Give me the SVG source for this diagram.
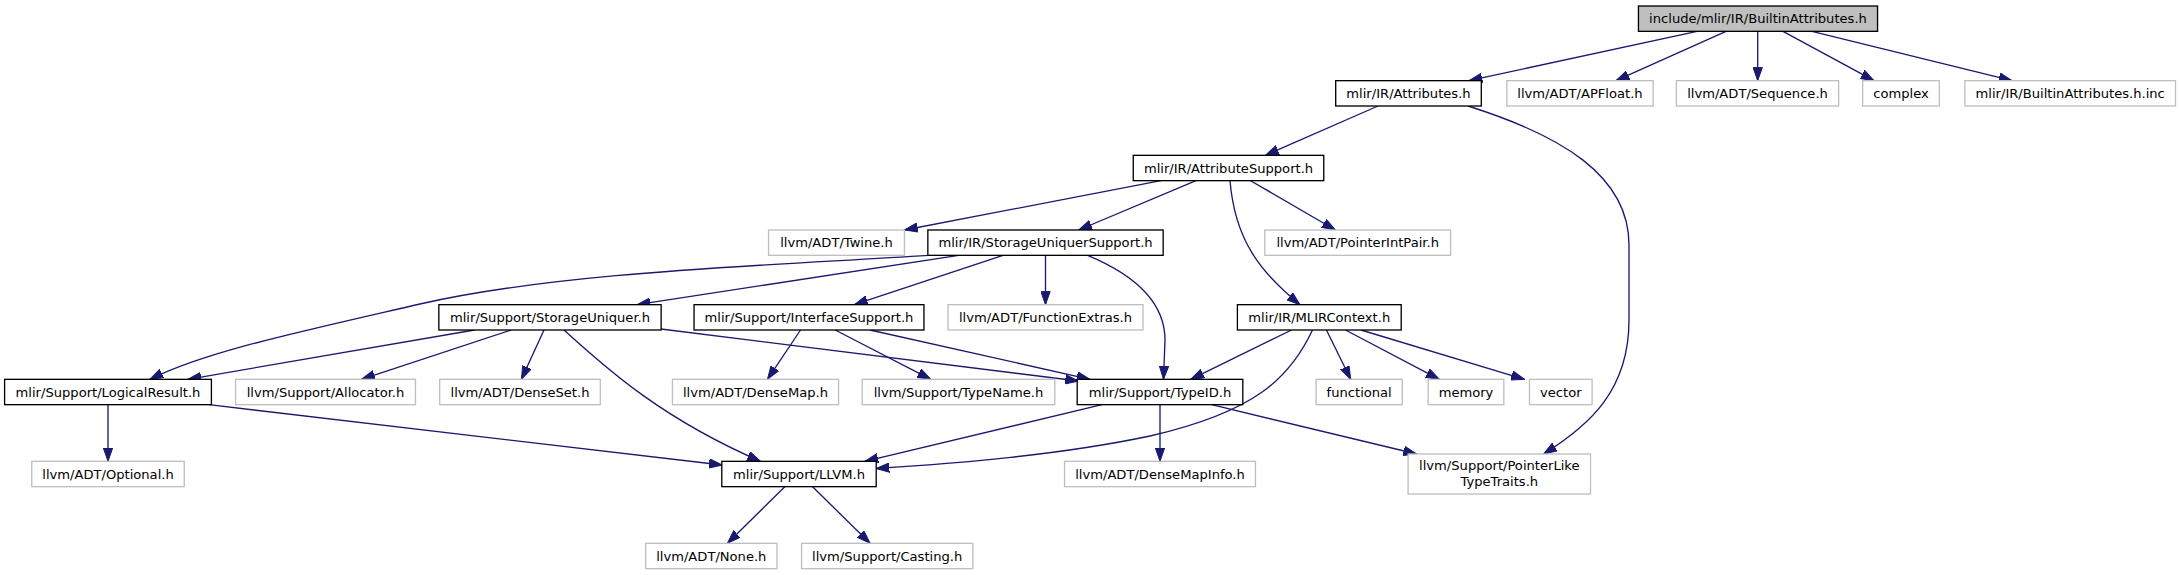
<svg xmlns="http://www.w3.org/2000/svg" width="2181" height="575" viewBox="0 0 2181 575">
<style>
  .n rect { stroke-width: 1.33; }
  .doc rect { fill: #ffffff; stroke: #000000; }
  .ext rect { fill: #ffffff; stroke: #bfbfbf; }
  .root rect { fill: #bfbfbf; stroke: #000000; }
  .n text { font-family: "DejaVu Sans", "Liberation Sans", sans-serif; font-size: 13.1px; text-anchor: middle; fill: #000000; }
  .edges path { fill: none; stroke: #191970; stroke-width: 1.33; marker-end: url(#ah); }
</style>
<defs>
  <marker id="ah" markerUnits="userSpaceOnUse" markerWidth="14" markerHeight="10" viewBox="0 0 14 10" refX="13.3" refY="5" orient="auto">
    <path d="M0,0.33 L13.3,5 L0,9.67 z" fill="#191970" stroke="#191970" stroke-width="1"/>
  </marker>
</defs>
<rect x="0" y="0" width="2181" height="575" fill="#ffffff"/>
<g class="edges" id="connectors">
  <path d="M1697,31.3 L1469,80.7"/>
  <path d="M1726,31.3 L1616,80.7"/>
  <path d="M1757.7,31.3 L1757.7,80.7"/>
  <path d="M1783,31.3 L1874,80.7"/>
  <path d="M1812,31.3 L2012,80.7"/>
  <path d="M1378,106 L1265.5,155.3"/>
  <path d="M1468,106 C1560,135 1629,175 1629,245 L1629,320 C1629,390 1590,425 1543.6,454"/>
  <path d="M1161,180.7 L904.5,230"/>
  <path d="M1196,180.7 L1078.7,230"/>
  <path d="M1250.6,180.7 L1335.4,230"/>
  <path d="M1230,180.7 C1235,240 1260,272 1300,304.7"/>
  <path d="M928.5,255.3 C760,266 560,272 420,304 C290,334 205,352 150,379.3"/>
  <path d="M958.6,255.3 L637,304.7"/>
  <path d="M1003,255.3 L854.3,304.7"/>
  <path d="M1045.5,255.3 L1045.5,304.7"/>
  <path d="M1087.6,255.3 C1135,275 1165,302 1165,340 L1163.5,379.3"/>
  <path d="M474.5,330 L188,379.3"/>
  <path d="M511,330 L361.5,379.3"/>
  <path d="M544,330 L521.4,379.3"/>
  <path d="M564,330 C610,372 665,420 760.5,461.3"/>
  <path d="M661,329 L1078.5,381"/>
  <path d="M800.5,330 L767.5,379.3"/>
  <path d="M835.2,330 L930.8,379.3"/>
  <path d="M870,330 L1090,379.3"/>
  <path d="M1291.6,330 L1190.8,379.3"/>
  <path d="M1312.5,330 C1290,378 1255,412 1150,436 C1060,455 960,463 876,468.5"/>
  <path d="M1326.4,330 L1350.7,379.3"/>
  <path d="M1345.5,330 L1439.3,379.3"/>
  <path d="M1361,330 L1524.5,379.3"/>
  <path d="M108,404.7 L108,461.3"/>
  <path d="M209,404.7 L722.3,465"/>
  <path d="M1102,404.7 L864.8,461.3"/>
  <path d="M1160,404.7 L1160,461.3"/>
  <path d="M1211.7,404.7 L1416.7,454"/>
  <path d="M784.8,486.7 L727.5,543.3"/>
  <path d="M812.6,486.7 L870,543.3"/>
</g>
<g id="n_root" class="n root"><rect x="1638.45" y="6" width="239.1" height="25.33"/><text x="1758" y="23.2">include/mlir/IR/BuiltinAttributes.h</text></g>
<g id="n_attributes" class="n doc"><rect x="1335.7" y="80.67" width="145.6" height="25.33"/><text x="1408.5" y="97.8">mlir/IR/Attributes.h</text></g>
<g id="n_apfloat" class="n ext"><rect x="1506.85" y="80.67" width="146.3" height="25.33"/><text x="1580" y="97.8">llvm/ADT/APFloat.h</text></g>
<g id="n_sequence" class="n ext"><rect x="1676.35" y="80.67" width="162.3" height="25.33"/><text x="1757.5" y="97.8">llvm/ADT/Sequence.h</text></g>
<g id="n_complex" class="n ext"><rect x="1862.65" y="80.67" width="76.7" height="25.33"/><text x="1901" y="97.8">complex</text></g>
<g id="n_inc" class="n ext"><rect x="1964.9" y="80.67" width="210.6" height="25.33"/><text x="2070.2" y="97.8">mlir/IR/BuiltinAttributes.h.inc</text></g>
<g id="n_attrsupport" class="n doc"><rect x="1133.25" y="155.33" width="190.5" height="25.33"/><text x="1228.5" y="172.5">mlir/IR/AttributeSupport.h</text></g>
<g id="n_twine" class="n ext"><rect x="768.55" y="230" width="135.9" height="25.33"/><text x="836.5" y="247.2">llvm/ADT/Twine.h</text></g>
<g id="n_sus" class="n doc"><rect x="927.85" y="230" width="235.3" height="25.33"/><text x="1045.5" y="247.2">mlir/IR/StorageUniquerSupport.h</text></g>
<g id="n_pip" class="n ext"><rect x="1264.8" y="230" width="185.8" height="25.33"/><text x="1357.7" y="247.2">llvm/ADT/PointerIntPair.h</text></g>
<g id="n_su" class="n doc"><rect x="438.85" y="304.67" width="222.3" height="25.33"/><text x="550" y="321.8">mlir/Support/StorageUniquer.h</text></g>
<g id="n_is" class="n doc"><rect x="694.05" y="304.67" width="229.9" height="25.33"/><text x="809" y="321.8">mlir/Support/InterfaceSupport.h</text></g>
<g id="n_fe" class="n ext"><rect x="948" y="304.67" width="195" height="25.33"/><text x="1045.5" y="321.8">llvm/ADT/FunctionExtras.h</text></g>
<g id="n_ctx" class="n doc"><rect x="1237.4" y="304.67" width="163.8" height="25.33"/><text x="1319.3" y="321.8">mlir/IR/MLIRContext.h</text></g>
<g id="n_lr" class="n doc"><rect x="4.6" y="379.33" width="206.8" height="25.33"/><text x="108" y="396.5">mlir/Support/LogicalResult.h</text></g>
<g id="n_alloc" class="n ext"><rect x="235.55" y="379.33" width="179.9" height="25.33"/><text x="325.5" y="396.5">llvm/Support/Allocator.h</text></g>
<g id="n_denseset" class="n ext"><rect x="439.7" y="379.33" width="160.6" height="25.33"/><text x="520" y="396.5">llvm/ADT/DenseSet.h</text></g>
<g id="n_densemap" class="n ext"><rect x="672.45" y="379.33" width="166.1" height="25.33"/><text x="755.5" y="396.5">llvm/ADT/DenseMap.h</text></g>
<g id="n_typename" class="n ext"><rect x="862.2" y="379.33" width="192.6" height="25.33"/><text x="958.5" y="396.5">llvm/Support/TypeName.h</text></g>
<g id="n_typeid" class="n doc"><rect x="1077.2" y="379.33" width="165.6" height="25.33"/><text x="1160" y="396.5">mlir/Support/TypeID.h</text></g>
<g id="n_functional" class="n ext"><rect x="1316.1" y="379.33" width="86.2" height="25.33"/><text x="1359.2" y="396.5">functional</text></g>
<g id="n_memory" class="n ext"><rect x="1428.15" y="379.33" width="75.7" height="25.33"/><text x="1466" y="396.5">memory</text></g>
<g id="n_vector" class="n ext"><rect x="1529.5" y="379.33" width="62.6" height="25.33"/><text x="1560.8" y="396.5">vector</text></g>
<g id="n_optional" class="n ext"><rect x="31.75" y="461.33" width="152.5" height="25.33"/><text x="108" y="478.5">llvm/ADT/Optional.h</text></g>
<g id="n_llvm" class="n doc"><rect x="721.8" y="461.33" width="154.4" height="25.33"/><text x="799" y="478.5">mlir/Support/LLVM.h</text></g>
<g id="n_densemapinfo" class="n ext"><rect x="1064.55" y="461.33" width="190.9" height="25.33"/><text x="1160" y="478.5">llvm/ADT/DenseMapInfo.h</text></g>
<g id="n_pointerlike" class="n ext"><rect x="1408.1" y="454" width="182.4" height="40"/><text x="1499.3" y="469.5">llvm/Support/PointerLike</text><text x="1499.3" y="485.5">TypeTraits.h</text></g>
<g id="n_none" class="n ext"><rect x="645.65" y="543.33" width="131.3" height="25.33"/><text x="711.3" y="560.5">llvm/ADT/None.h</text></g>
<g id="n_casting" class="n ext"><rect x="801.55" y="543.33" width="171.3" height="25.33"/><text x="887.2" y="560.5">llvm/Support/Casting.h</text></g>
</svg>
